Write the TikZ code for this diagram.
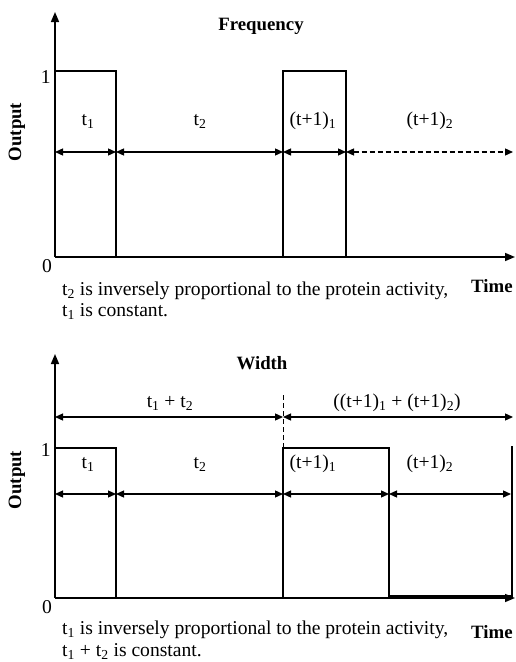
\documentclass[tikz,border=0pt]{standalone}
\usepackage{fontspec}
\setmainfont{Liberation Serif}
\usetikzlibrary{arrows.meta}
\begin{document}
\begin{tikzpicture}[x=1pt,y=-1pt,
  lbl/.style={inner sep=0pt, font=\fontsize{19.6}{21}\selectfont},
  blbl/.style={inner sep=0pt, font=\fontsize{18.8}{21}\selectfont\bfseries},
  axis/.style={line width=1.6pt, -{Triangle[length=10pt,width=8pt]}},
  signal/.style={line width=2.6pt, line join=miter},
  dim/.style={line width=1.3pt, {Triangle[length=8pt,width=7pt]}-{Triangle[length=8pt,width=7pt]}},
  dimdash/.style={dim, dashed, dash pattern=on 5pt off 3pt},
  guide/.style={line width=1pt, dash pattern=on 5pt off 3pt}]
\useasboundingbox (0,0) rectangle (516,662);
\fill[white] (0,0) rectangle (516,662);

% ---------- top chart: Frequency ----------
\coordinate (o1) at (55,257);
\coordinate (ytop1) at (55,12);
\coordinate (xend1) at (515,257);
\draw[axis] (o1) -- (ytop1);
\draw[axis] (o1) -- (xend1);
\coordinate (s1a) at (55,71);
\coordinate (s1b) at (116,71);
\coordinate (s1c) at (116,257);
\coordinate (s1d) at (283,257);
\coordinate (s1e) at (283,71);
\coordinate (s1f) at (346,71);
\coordinate (s1g) at (346,257);
\draw[signal] (s1a) -- (s1b) -- (s1c) -- (s1d) -- (s1e) -- (s1f) -- (s1g);
\coordinate (d1a) at (55,152);
\coordinate (d1b) at (116,152);
\coordinate (d1c) at (283,152);
\coordinate (d1d) at (346,152);
\coordinate (d1e) at (513,152);
\draw[dim] (d1a) -- (d1b);
\draw[dim] (d1b) -- (d1c);
\draw[dim] (d1c) -- (d1d);
\draw[dimdash] (d1d) -- (d1e);
\node[blbl, anchor=base] (title1) at (261,30) {Frequency};
\node[blbl, rotate=90] (out1) at (17,132) {Output};
\node[lbl, anchor=base east] (one1) at (51,83) {1};
\node[lbl, anchor=base] (zero1) at (47,272) {0};
\node[lbl, anchor=base] (ta1) at (88,125) {t\textsubscript{1}};
\node[lbl, anchor=base] (tb1) at (200,125) {t\textsubscript{2}};
\node[lbl, anchor=base] (tc1) at (313,125) {(t+1)\textsubscript{1}};
\node[lbl, anchor=base] (td1) at (430,125) {(t+1)\textsubscript{2}};
\node[lbl, anchor=base west] (cap1a) at (62,295) {t\textsubscript{2} is inversely proportional to the protein activity,};
\node[lbl, anchor=base west] (cap1b) at (62,316) {t\textsubscript{1} is constant.};
\node[blbl, anchor=base west] (time1) at (471,292) {Time};

% ---------- bottom chart: Width ----------
\coordinate (o2) at (55,598);
\coordinate (ytop2) at (55,354);
\coordinate (xend2) at (515,598);
\draw[axis] (o2) -- (ytop2);
\draw[axis] (o2) -- (xend2);
\coordinate (s2a) at (55,448);
\coordinate (s2b) at (116,448);
\coordinate (s2c) at (116,598);
\coordinate (s2d) at (283,598);
\coordinate (s2e) at (283,448);
\coordinate (s2f) at (389,448);
\coordinate (s2g) at (389,596);
\coordinate (s2h) at (512,596);
\coordinate (s2i) at (512,446);
\draw[signal] (s2a) -- (s2b) -- (s2c) -- (s2d) -- (s2e) -- (s2f) -- (s2g) -- (s2h) -- (s2i);
\coordinate (g2a) at (283,395);
\draw[guide] (g2a) -- (s2e);
\coordinate (e2a) at (55,417);
\coordinate (e2b) at (283,417);
\coordinate (e2c) at (513,417);
\draw[dim] (e2a) -- (e2b);
\draw[dim] (e2b) -- (e2c);
\coordinate (d2a) at (55,494);
\coordinate (d2b) at (116,494);
\coordinate (d2c) at (283,494);
\coordinate (d2d) at (389,494);
\coordinate (d2e) at (511,494);
\draw[dim] (d2a) -- (d2b);
\draw[dim] (d2b) -- (d2c);
\draw[dim] (d2c) -- (d2d);
\draw[dim] (d2d) -- (d2e);
\node[blbl, anchor=base] (title2) at (262,369) {Width};
\node[blbl, rotate=90] (out2) at (17,480) {Output};
\node[lbl, anchor=base east] (one2) at (51,456) {1};
\node[lbl, anchor=base] (zero2) at (47,613) {0};
\node[lbl, anchor=base] (sum2) at (170,407) {t\textsubscript{1} + t\textsubscript{2}};
\node[lbl, anchor=base] (sum2b) at (397,407) {((t+1)\textsubscript{1} + (t+1)\textsubscript{2})};
\node[lbl, anchor=base] (ta2) at (88,468) {t\textsubscript{1}};
\node[lbl, anchor=base] (tb2) at (200,468) {t\textsubscript{2}};
\node[lbl, anchor=base] (tc2) at (313,468) {(t+1)\textsubscript{1}};
\node[lbl, anchor=base] (td2) at (430,468) {(t+1)\textsubscript{2}};
\node[lbl, anchor=base west] (cap2a) at (62,634) {t\textsubscript{1} is inversely proportional to the protein activity,};
\node[lbl, anchor=base west] (cap2b) at (62,656) {t\textsubscript{1} + t\textsubscript{2} is constant.};
\node[blbl, anchor=base west] (time2) at (471,638) {Time};
\end{tikzpicture}
\end{document}
